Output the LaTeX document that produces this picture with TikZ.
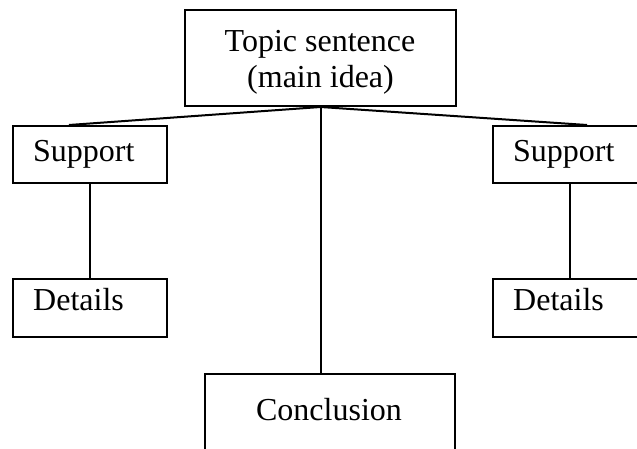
\documentclass[tikz,border=0pt]{standalone}
\usepackage{fontspec}
\setmainfont{Liberation Serif}
\usetikzlibrary{calc}
\tikzset{
  box/.style={draw=black, line width=2pt, rectangle, inner sep=0pt},
  txt/.style={inner sep=0pt, font=\fontsize{32}{36}\selectfont},
  conn/.style={draw=black, line width=2pt},
}
\begin{document}
\begin{tikzpicture}[x=1pt,y=-1pt]
\useasboundingbox (0,0) rectangle (637,449);
\clip (0,0) rectangle (637,449);
% boxes
\node[box, minimum width=271pt, minimum height=96pt] (tb) at (320.5,58) {};
\node[box, minimum width=154pt, minimum height=57pt] (s1) at (90,154.5) {};
\node[box, minimum width=154pt, minimum height=57pt] (s2) at (570,154.5) {};
\node[box, minimum width=154pt, minimum height=58pt] (d1) at (90,308) {};
\node[box, minimum width=154pt, minimum height=58pt] (d2) at (570,308) {};
\node[box, minimum width=250pt, minimum height=120pt] (c) at (330,434) {};
% texts
\node[txt, anchor=base] (tbt1) at (320,52) {Topic sentence};
\node[txt, anchor=base] (tbt2) at (320.5,88) {(main idea)};
\node[txt, anchor=base west] (s1t) at (33,162) {Support};
\node[txt, anchor=base west] (s2t) at (513,162) {Support};
\node[txt, anchor=base west] (d1t) at (33,310) {Details};
\node[txt, anchor=base west] (d2t) at (513,310) {Details};
\node[txt, anchor=base] (ct) at (329,420) {Conclusion};
% connectors
\draw[conn] (tb.south) -- ($(s1.north west)+(57,0)$);
\draw[conn] (tb.south) -- ($(s2.north west)+(95,0)$);
\draw[conn] (tb.south) -- (tb.south |- c.north);
\draw[conn] (s1.south) -- (d1.north);
\draw[conn] (s2.south) -- (d2.north);
\end{tikzpicture}
\end{document}
